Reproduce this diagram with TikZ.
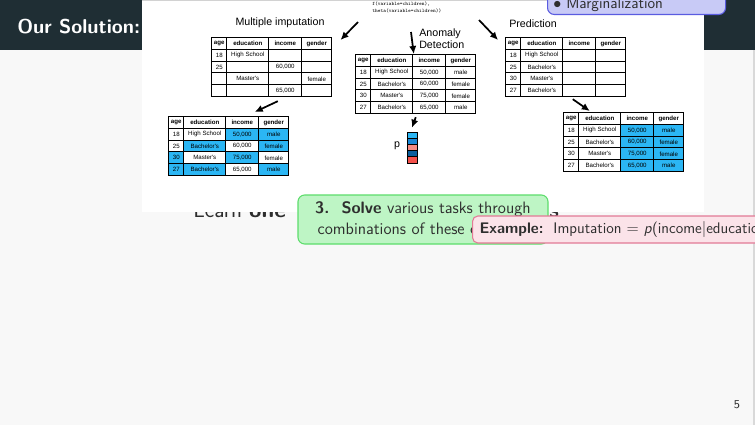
\documentclass[tikz,border=0pt]{standalone}
\usepackage{fontspec}
\newfontfamily\arial{Liberation Sans}
\usetikzlibrary{matrix,arrows.meta,calc}
\definecolor{slidebg}{HTML}{F8F8F8}
\definecolor{headbg}{HTML}{1F2E34}
\definecolor{cellblue}{HTML}{2BB6F4}
\definecolor{gfill}{HTML}{BEF5C5}
\definecolor{gdraw}{HTML}{5CDD6B}
\definecolor{pfill}{HTML}{FBE3E9}
\definecolor{pdraw}{HTML}{E27A96}
\definecolor{bfill}{HTML}{C8CAF6}
\definecolor{bdraw}{HTML}{5A5CE0}
\definecolor{txt}{HTML}{2E2E2E}
\definecolor{pbA}{HTML}{2BB6F5}
\definecolor{pbB}{HTML}{1A88D6}
\definecolor{pbC}{HTML}{F48C84}
\definecolor{pbD}{HTML}{0B5E9C}
\definecolor{pbE}{HTML}{F4514A}
\tikzset{
  tab/.style={matrix of nodes, nodes in empty cells, anchor=north west,
    column sep=-0.75pt, row sep=-0.75pt, inner sep=0pt,
    nodes={draw=black, line width=0.75pt, inner sep=0pt, minimum height=8.8pt,
      anchor=center, text=black, font=\arial\fontsize{4.6}{5}\selectfont},
    column 1/.style={nodes={minimum width=11.25pt}},
    column 2/.style={nodes={minimum width=31.5pt}},
    column 3/.style={nodes={minimum width=24.75pt}},
    column 4/.style={nodes={minimum width=22.5pt}},
    row 1/.style={nodes={font=\arial\bfseries\fontsize{4.6}{5}\selectfont}}},
  hl/.style={fill=cellblue},
  arr/.style={-{Latex[length=6pt,width=5.5pt]}, line width=1.3pt, black},
  lbl/.style={inner sep=0pt, font=\arial\fontsize{8}{9}\selectfont, text=black},
  pseg/.style={draw=black, line width=0.5pt, minimum width=7.5pt, minimum height=4.65pt, inner sep=0pt},
  slidetxt/.style={inner sep=0pt, text=txt, font=\sffamily\fontsize{17}{20}\selectfont},
  boxtxt/.style={text=txt, font=\sffamily\fontsize{12.4}{15.5}\selectfont}
}
\begin{document}
\begin{tikzpicture}[x=0.75pt,y=-0.75pt]
\useasboundingbox (0,0) rectangle (755,425);
\clip (0,0) rectangle (755,425);
% slide background
\fill[slidebg] (0,0) rectangle (755,425);
\fill[gray!30] (753,0) rectangle (755,425);
\fill[headbg] (0,0) rectangle (755,50);
\node[anchor=base west, inner sep=0pt, text=white, font=\sffamily\bfseries\fontsize{15}{18}\selectfont] (title) at (17,33) {Our Solution:};
\node[slidetxt, anchor=base west] (learn) at (193,217) {Learn \textbf{one}};
\node[slidetxt, anchor=base west] (frag) at (549,217) {\textbf{s}};
\node[anchor=base, inner sep=0pt, text=txt, font=\sffamily\fontsize{9}{11}\selectfont] (pagenum) at (737,408) {5};
% white picture
\fill[white] (142,0) rectangle (704,212);
\draw[gray!35, line width=0.75pt] (142,0.5) -- (704,0.5);
% code fragment
\node[anchor=base west, inner sep=0pt, font=\ttfamily\fontsize{3.9}{4.5}\selectfont] (code1) at (372,5.5) {f(variable=children),};
\node[anchor=base west, inner sep=0pt, font=\ttfamily\fontsize{3.9}{4.5}\selectfont] (code2) at (372,12) {theta(variable=children))};
% labels
\node[lbl] (lmi) at (280,23) {Multiple imputation};
\node[lbl, anchor=north west, align=left] (lad) at (419,29) {Anomaly\\Detection};
\node[lbl] (lpr) at (533,24) {Prediction};
% tables
\matrix[tab] (t1) at (211,37) {
age & education & income & gender \\
18 & High School & & \\
25 & & 60,000 & \\
 & Master's & & female \\
 & & 65,000 & \\
};
\matrix[tab] (t2) at (168,116) {
age & education & income & gender \\
18 & High School & |[hl]| 50,000 & |[hl]| male \\
25 & |[hl]| Bachelor's & 60,000 & |[hl]| female \\
|[hl]| 30 & Master's & |[hl]| 75,000 & female \\
|[hl]| 27 & |[hl]| Bachelor's & 65,000 & |[hl]| male \\
};
\matrix[tab] (t3) at (355,54) {
age & education & income & gender \\
18 & High School & 50,000 & male \\
25 & Bachelor's & 60,000 & female \\
30 & Master's & 75,000 & female \\
27 & Bachelor's & 65,000 & male \\
};
\matrix[tab] (t4) at (505,37) {
age & education & income & gender \\
18 & High School & & \\
25 & Bachelor's & & \\
30 & Master's & & \\
27 & Bachelor's & & \\
};
\matrix[tab] (t5) at (563,112) {
age & education & income & gender \\
18 & High School & |[hl]| 50,000 & |[hl]| male \\
25 & Bachelor's & |[hl]| 60,000 & |[hl]| female \\
30 & Master's & |[hl]| 75,000 & |[hl]| female \\
27 & Bachelor's & |[hl]| 65,000 & |[hl]| male \\
};
% probability bar
\node[pseg, fill=pbA] (p1) at (412,135.1) {};
\node[pseg, fill=pbB] (p2) at (412,141.3) {};
\node[pseg, fill=pbC] (p3) at (412,147.5) {};
\node[pseg, fill=pbD] (p4) at (412,153.7) {};
\node[pseg, fill=pbE] (p5) at (412,159.9) {};
\node[lbl] (plbl) at (397,146) {p};
% arrows
\coordinate (a1s) at (358,22);
\coordinate (a3s) at (411,32);
\coordinate (a5s) at (479,20);
\draw[arr] (a1s) -- ($(t1.north east)+(8,3)$);
\draw[arr] ($(t1.south)+(6,4)$) -- ($(t2.north)+(26,-4)$);
\draw[arr] (a3s) -- ($(t3.north)+(-2,0)$);
\draw[arr] ($(t3.south)+(0,3)$) -- ($(p1.north)+(0,-4)$);
\draw[arr] (a5s) -- ($(t4.north west)+(-7,3)$);
\draw[arr] ($(t4.south)+(7,2)$) -- ($(t5.north)+(-34,-1)$);
% marginalization box
\node[draw=bdraw, fill=bfill, line width=0.8pt, rounded corners=5pt, anchor=south west,
      minimum width=133.5pt, minimum height=30pt] (margbox) at (547,15) {};
\node[text=txt, font=\sffamily\fontsize{11.6}{14}\selectfont, anchor=base west, inner sep=0pt] (margtxt) at (553,8.5) {$\bullet$\ Marginalization};
% solve box
\node[draw=gdraw, fill=gfill, line width=0.8pt, rounded corners=5pt, boxtxt, align=center,
      minimum width=187.5pt, minimum height=36.75pt, inner sep=0pt] (solve) at (423,219.5)
      {\textbf{3.\ \ Solve} various tasks through\\combinations of these concepts};
% example box
\node[draw=pdraw, fill=pfill, line width=0.8pt, rounded corners=4pt, anchor=west,
      text=txt, font=\sffamily\fontsize{11.5}{14}\selectfont,
      minimum height=20.25pt, inner xsep=5.25pt, inner ysep=0pt] (example) at (472,229.5)
      {\textbf{Example:}\ \ Imputation $=$ \textit{p}(income$|$education, age)};
\end{tikzpicture}
\end{document}
